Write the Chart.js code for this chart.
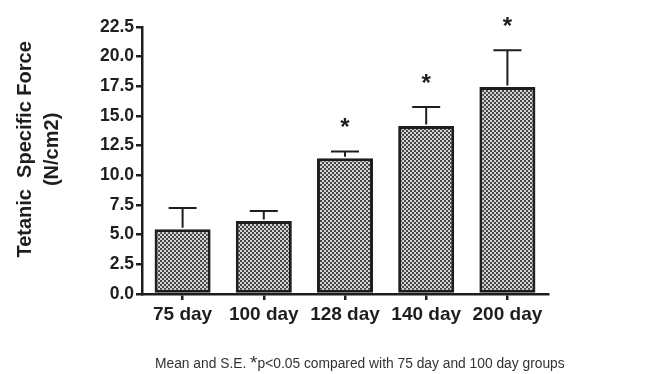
<!DOCTYPE html>
<html>
<head>
<meta charset="utf-8">
<script src="https://cdn.jsdelivr.net/npm/chart.js@4.4.1/dist/chart.umd.min.js"></script>
<style>
  html, body { margin: 0; padding: 0; background: #fff; }
  #wrap { width: 654px; height: 374px; position: relative; }
</style>
</head>
<body>
<div id="wrap"><canvas id="chart" width="654" height="374"></canvas></div>
<script>
// --- data ---
const groups = ['75 day', '100 day', '128 day', '140 day', '200 day'];
const means = [5.45, 6.15, 11.45, 14.15, 17.45];
const stdErr = [1.8, 0.85, 0.55, 1.6, 3.1];
const significant = [false, false, true, true, true];
const yTicks = [0, 2.5, 5, 7.5, 10, 12.5, 15, 17.5, 20, 22.5];

const INK = '#1e1e1e';
const FONT = '"Liberation Sans", Arial, sans-serif';

// dotted grey fill like the original print
function makePattern() {
    const c = document.createElement('canvas');
    c.width = 4; c.height = 4;
    const g = c.getContext('2d');
    g.fillStyle = '#d4d4d4';
    g.fillRect(0, 0, 4, 4);
    g.fillStyle = '#474747';
    g.fillRect(0, 0, 2, 2);
    g.fillRect(2, 2, 2, 2);
    return g.createPattern(c, 'repeat');
}

// error bars (upper only) + significance stars
const errorBars = {
    id: 'errorBars',
    afterDatasetsDraw(chart) {
        const ctx = chart.ctx;
        const y = chart.scales.y;
        const meta = chart.getDatasetMeta(0);
        ctx.save();
        ctx.strokeStyle = INK;
        ctx.lineWidth = 2;
        meta.data.forEach((bar, i) => {
            const top = y.getPixelForValue(means[i] + stdErr[i]);
            const base = y.getPixelForValue(means[i]) - 1.5;
            ctx.beginPath();
            ctx.moveTo(bar.x, base);
            ctx.lineTo(bar.x, top);
            ctx.moveTo(bar.x - 14, top);
            ctx.lineTo(bar.x + 14, top);
            ctx.stroke();
            if (significant[i]) {
                ctx.fillStyle = INK;
                ctx.font = 'bold 24px ' + FONT;
                ctx.textAlign = 'center';
                ctx.textBaseline = 'middle';
                ctx.fillText('*', bar.x, top - 23);
            }
        });
        ctx.restore();
    }
};

// footnote under the chart
const footnote = {
    id: 'footnote',
    afterDraw(chart) {
        const ctx = chart.ctx;
        ctx.save();
        ctx.fillStyle = '#333';
        ctx.textBaseline = 'alphabetic';
        ctx.textAlign = 'left';
        let x = 155;
        const yb = 368;
        ctx.font = '13.8px ' + FONT;
        const a = 'Mean and S.E. ';
        ctx.fillText(a, x, yb);
        x += ctx.measureText(a).width;
        ctx.font = '19px ' + FONT;
        ctx.fillText('*', x, yb + 1);
        x += ctx.measureText('*').width;
        ctx.font = '13.8px ' + FONT;
        ctx.fillText('p<0.05 compared with 75 day and 100 day groups', x, yb);
        ctx.restore();
    }
};

new Chart(document.getElementById('chart').getContext('2d'), {
    type: 'bar',
    data: {
        labels: groups,
        datasets: [{
            data: means,
            backgroundColor: makePattern(),
            borderColor: INK,
            borderWidth: 3,
            borderSkipped: false,
            barPercentage: 0.69,
            categoryPercentage: 1
        }]
    },
    options: {
        responsive: false,
        animation: false,
        events: [],
        layout: { padding: { left: 0, right: 106, top: 27, bottom: 0 } },
        plugins: { legend: { display: false }, tooltip: { enabled: false } },
        scales: {
            x: {
                grid: { offset: false, drawOnChartArea: false, drawTicks: true, tickLength: 6, color: INK, lineWidth: 2.5 },
                border: { color: INK, width: 2.5 },
                ticks: { color: INK, padding: 3, font: { family: FONT, size: 19, weight: 'bold' } },
                afterFit(scale) { scale.height = 80; }
            },
            y: {
                min: 0,
                max: 22.5,
                afterBuildTicks(scale) { scale.ticks = yTicks.map(v => ({ value: v })); },
                grid: { drawOnChartArea: false, drawTicks: true, tickLength: 6, color: INK, lineWidth: 2.5 },
                border: { color: INK, width: 2.5 },
                ticks: {
                    color: INK, padding: 2,
                    font: { family: FONT, size: 17.5, weight: 'bold' },
                    callback: v => Number(v).toFixed(1)
                },
                title: {
                    display: true,
                    // leading spaces nudge the rotated title up a little, as in the original
                    text: ['    Tetanic  Specific Force', '    (N/cm2)'],
                    color: INK,
                    padding: { top: 11.5, bottom: 0 },
                    font: { family: FONT, size: 20, weight: 'bold', lineHeight: 1.35 }
                },
                afterFit(scale) { scale.width = 142; }
            }
        }
    },
    plugins: [errorBars, footnote]
});
</script>
</body>
</html>
